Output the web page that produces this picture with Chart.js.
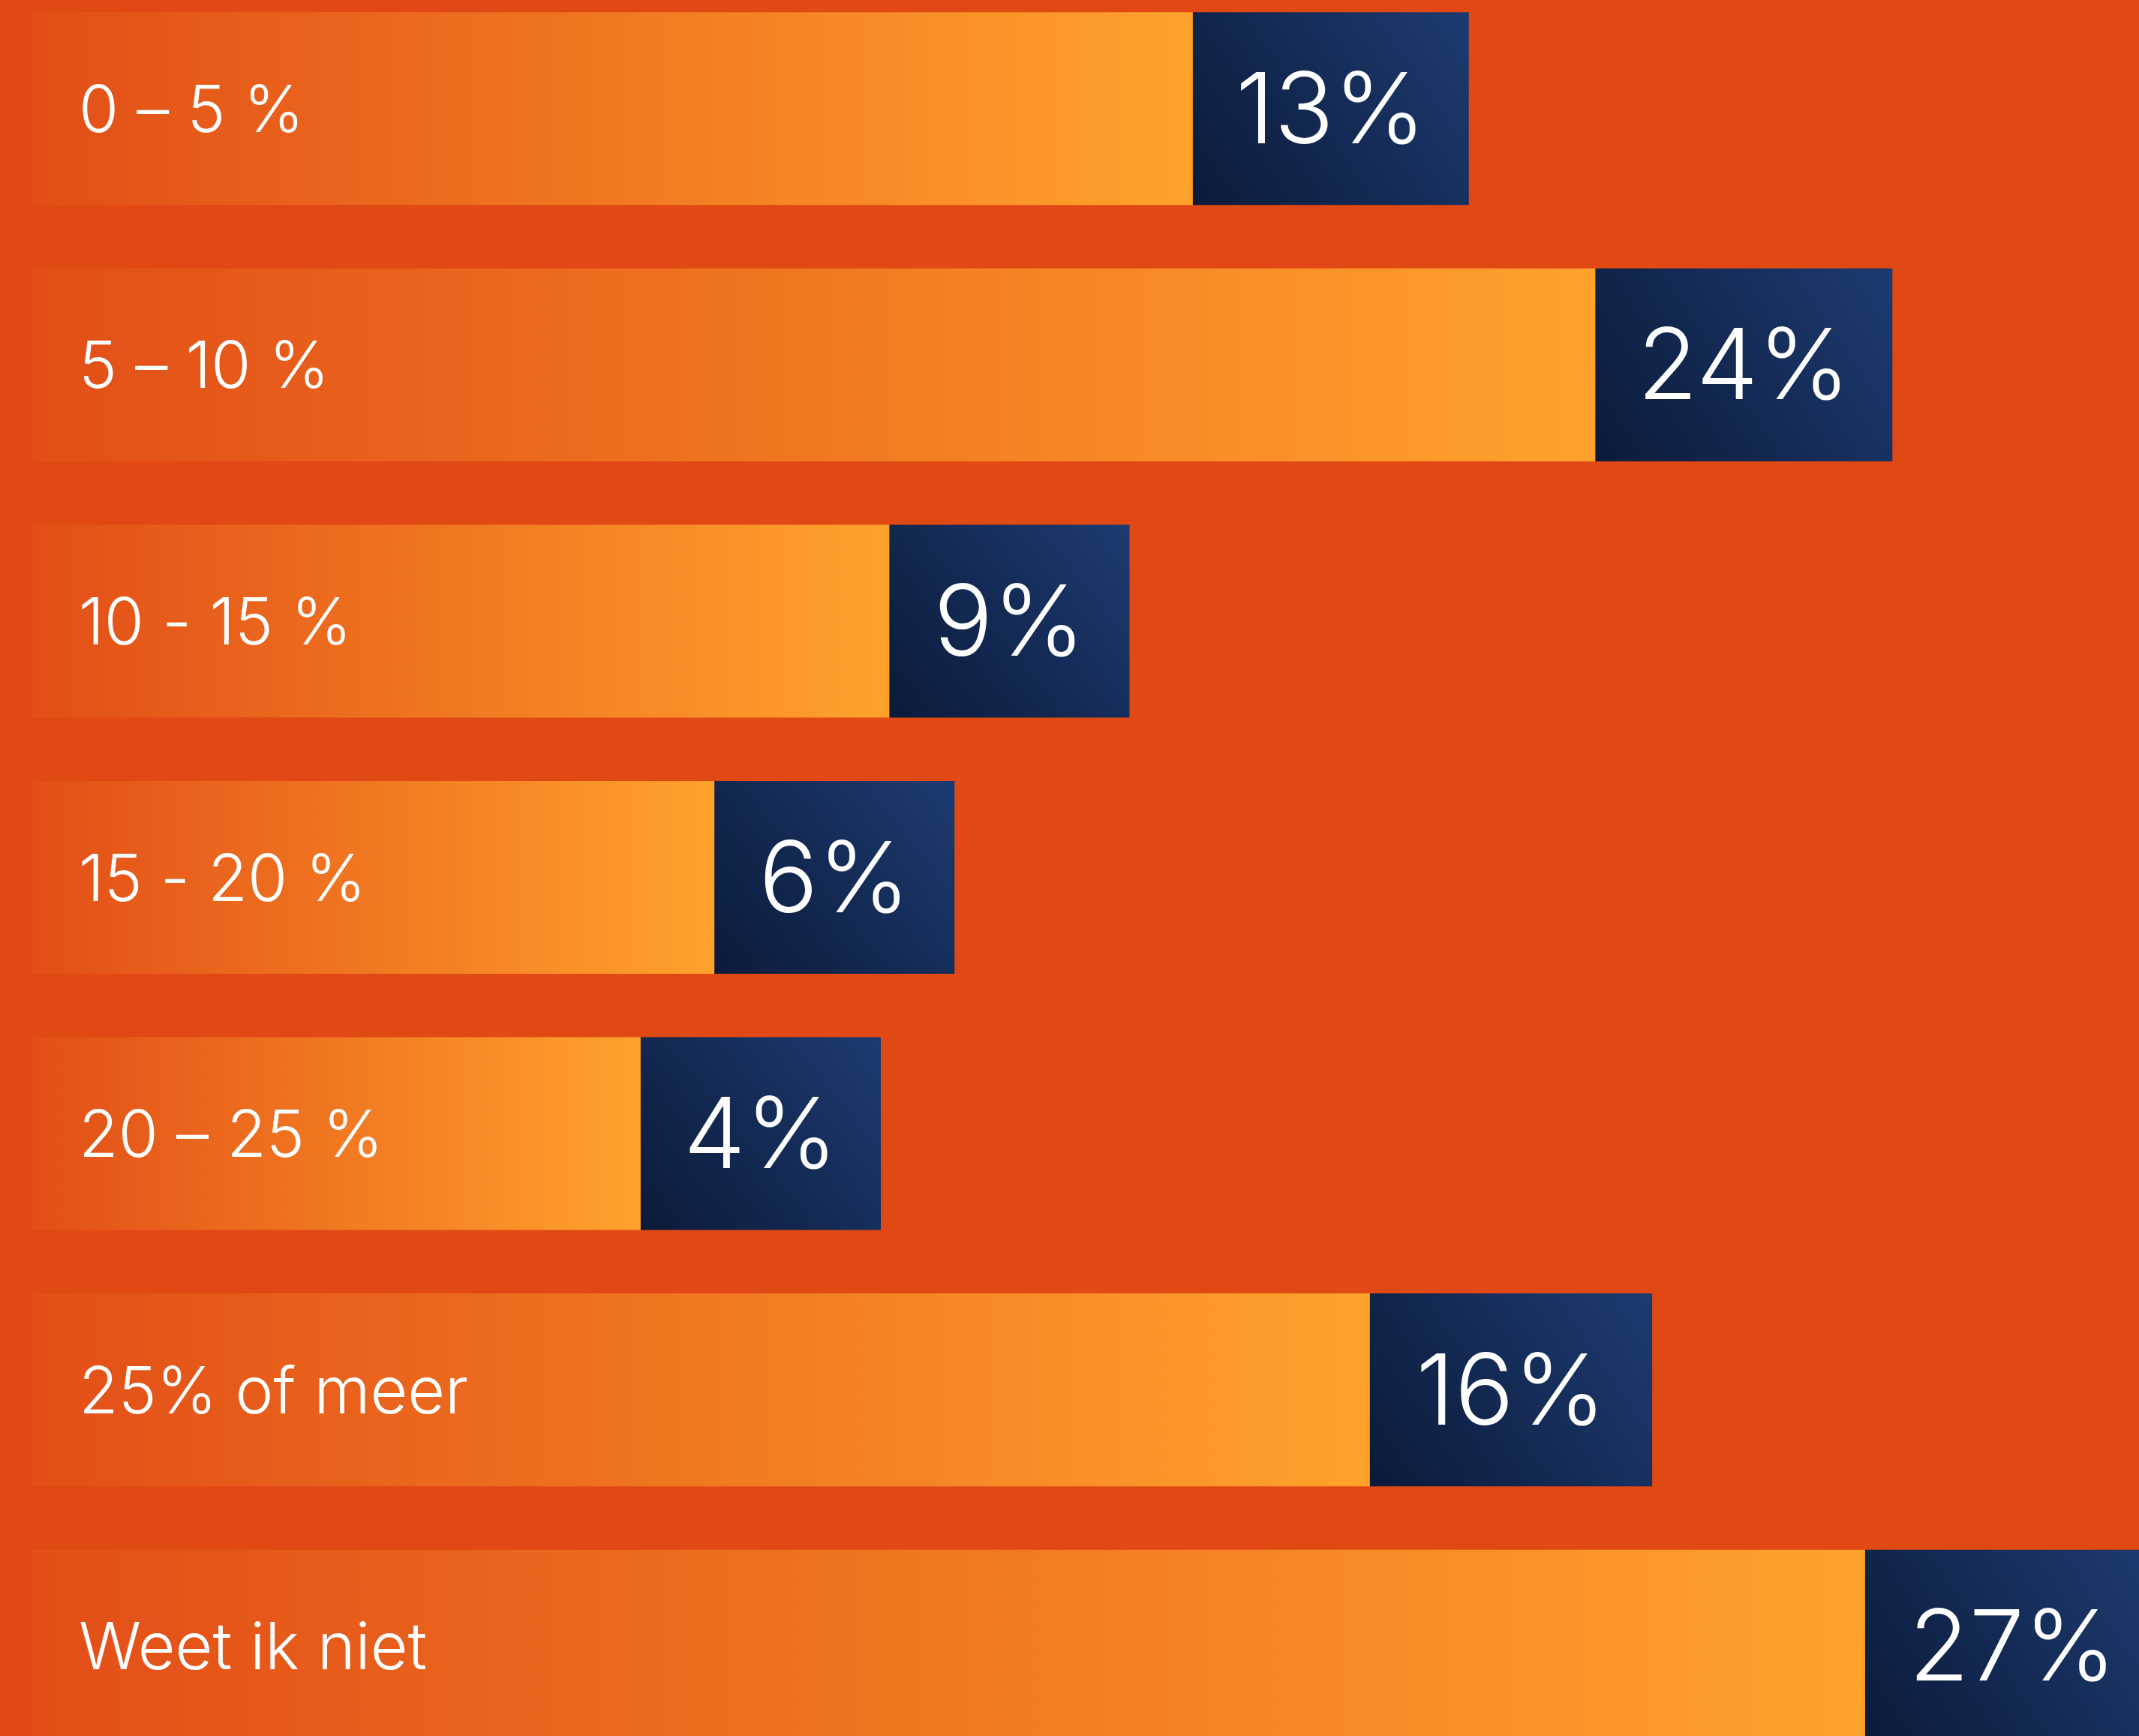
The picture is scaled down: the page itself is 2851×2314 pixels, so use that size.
<!DOCTYPE html>
<html>
<head>
<meta charset="utf-8">
<title>Bar chart</title>
<script src="https://cdn.jsdelivr.net/npm/chart.js@4.4.1/dist/chart.umd.min.js"></script>
<style>
    html, body {
        margin: 0;
        padding: 0;
        width: 2851px;
        height: 2314px;
        overflow: hidden;
        background: #E14914;
    }
    #chartWrap {
        position: absolute;
        left: 0;
        top: -26px;
        width: 2851px;
        height: 2391px;
    }
</style>
</head>
<body>
<div id="chartWrap"><canvas id="shareChart"></canvas></div>
<script>
// Data
const categories = ['0 – 5 %', '5 – 10 %', '10 - 15 %', '15 - 20 %', '20 – 25 %', '25% of meer', 'Weet ik niet'];
const shares = [13, 24, 9, 6, 4, 16, 27];
// bar lengths as drawn in the picture (share of the plot width)
const barLength = [55.1, 74.2, 40.7, 32.4, 28.9, 63.5, 87.0];
const boxLength = [13.1, 14.1, 11.4, 11.4, 11.4, 13.4, 14.0];

const FONT = 'Inter, "Noto Sans", sans-serif';

// Orange gradient, runs along each bar
function orangeFill(context) {
    const chart = context.chart;
    if (!chart.chartArea) return '#F27A22';
    const x = chart.scales.x;
    const x0 = x.getPixelForValue(0);
    const x1 = x.getPixelForValue(barLength[context.dataIndex]);
    const g = chart.ctx.createLinearGradient(x0, 0, x1, 0);
    g.addColorStop(0, '#E24E17');
    g.addColorStop(1, '#FFA22C');
    return g;
}

// Navy gradient, dark bottom-left to lighter top-right
function navyFill(context) {
    const chart = context.chart;
    if (!chart.chartArea) return '#13284F';
    const i = context.dataIndex;
    const x = chart.scales.x;
    const y = chart.scales.y;
    const x0 = x.getPixelForValue(barLength[i]);
    const x1 = x.getPixelForValue(barLength[i] + boxLength[i]);
    const band = y.getPixelForValue(1) - y.getPixelForValue(0);
    const half = band * 0.7526 / 2;
    const yc = y.getPixelForValue(i);
    const g = chart.ctx.createLinearGradient(x0, yc + half, x1, yc - half);
    g.addColorStop(0, '#0B1A39');
    g.addColorStop(1, '#1D3B71');
    return g;
}

// Labels: category text on the orange bar, value in the navy box
const barLabels = {
    id: 'barLabels',
    afterDatasetsDraw(chart) {
        const ctx = chart.ctx;
        const x = chart.scales.x;
        const y = chart.scales.y;
        ctx.save();
        ctx.fillStyle = '#ffffff';
        ctx.textBaseline = 'alphabetic';
        categories.forEach((label, i) => {
            const yc = y.getPixelForValue(i);

            ctx.font = '300 86px ' + FONT;
            ctx.textAlign = 'left';
            ctx.fillText(label, x.getPixelForValue(0) + 63, yc + 31);

            const left = x.getPixelForValue(barLength[i]);
            const right = x.getPixelForValue(barLength[i] + boxLength[i]);
            ctx.font = '300 131px ' + FONT;
            ctx.textAlign = 'center';
            ctx.fillText(shares[i] + '%', (left + right) / 2, yc + 46);
        });
        ctx.restore();
    }
};

function drawChart() {
    const ctx = document.getElementById('shareChart').getContext('2d');
    new Chart(ctx, {
        type: 'bar',
        data: {
            labels: categories,
            datasets: [{
                label: 'bar',
                data: barLength,
                backgroundColor: orangeFill,
                borderWidth: 0,
                barPercentage: 0.7526,
                categoryPercentage: 1
            }, {
                label: 'box',
                data: boxLength,
                backgroundColor: navyFill,
                borderWidth: 0,
                barPercentage: 0.7526,
                categoryPercentage: 1
            }]
        },
        options: {
            indexAxis: 'y',
            responsive: true,
            maintainAspectRatio: false,
            animation: false,
            devicePixelRatio: 1,
            layout: {
                padding: { left: 42, right: 0, top: 0, bottom: 0 }
            },
            plugins: {
                legend: { display: false },
                tooltip: { enabled: false }
            },
            scales: {
                x: {
                    type: 'linear',
                    min: 0,
                    max: 100,
                    stacked: true,
                    display: false
                },
                y: {
                    stacked: true,
                    display: false
                }
            }
        },
        plugins: [barLabels]
    });
}

document.fonts.load('300 86px Inter').then(drawChart, drawChart);
</script>
</body>
</html>
